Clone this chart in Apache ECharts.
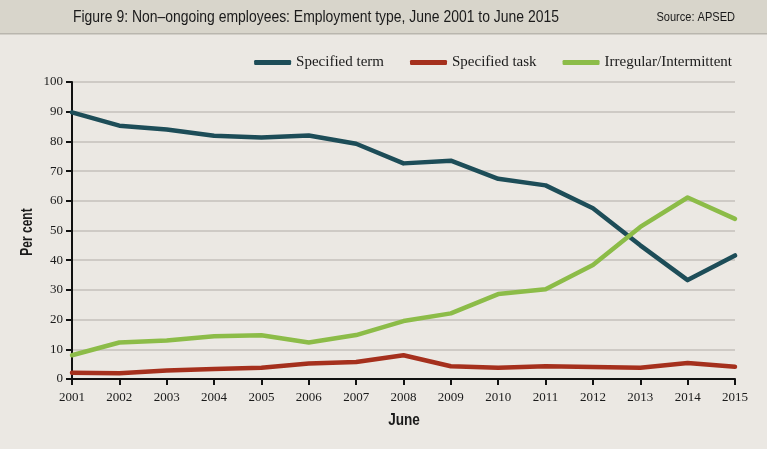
<!DOCTYPE html>
<html>
<head>
<meta charset="utf-8">
<script src="https://cdn.jsdelivr.net/npm/echarts@6/dist/echarts.min.js"></script>
<style>
html,body{margin:0;padding:0;background:#ebe8e3;}
#c{width:767px;height:449px;}
</style>
</head>
<body>
<div id="c"></div>
<script>
var years = ['2001','2002','2003','2004','2005','2006','2007','2008','2009','2010','2011','2012','2013','2014','2015'];
var specifiedTerm = [89.8,85.3,84.0,81.9,81.3,82.0,79.2,72.6,73.5,67.4,65.2,57.5,45.0,33.3,41.6];
var specifiedTask = [2.1,1.9,2.9,3.4,3.8,5.2,5.7,8.0,4.3,3.8,4.3,4.0,3.8,5.4,4.1];
var irregular = [8.0,12.3,13.0,14.4,14.7,12.3,14.8,19.5,22.1,28.6,30.2,38.4,51.2,61.1,53.9];
var yTicks = [0,10,20,30,40,50,60,70,80,90,100];

var serif = '"Liberation Serif", "DejaVu Serif", serif';
var sans = '"Liberation Sans", Arial, sans-serif';

var chart = echarts.init(document.getElementById('c'));
chart.setOption({
  backgroundColor: '#ebe8e3',
  animation: false,
  graphic: [
    {type:'rect', left:0, top:0, shape:{width:767, height:33}, style:{fill:'#d8d5cb'}},
    {type:'rect', left:0, top:33, shape:{width:767, height:1.5}, style:{fill:'#b9b6ae'}},
    {type:'text', x:73, y:17, scaleX:0.82,
      style:{text:'Figure 9: Non\u2013ongoing employees: Employment type, June 2001 to June 2015', font:'17px ' + sans, fill:'#1a1a1a', textAlign:'left', textVerticalAlign:'middle'}},
    {type:'text', x:735, y:17, scaleX:0.85,
      style:{text:'Source: APSED', font:'13px ' + sans, fill:'#1a1a1a', textAlign:'right', textVerticalAlign:'middle'}},
    {type:'text', x:28, y:232, rotation:Math.PI/2, scaleX:0.75,
      style:{text:'Per cent', font:'bold 16px ' + sans, fill:'#1a1a1a', textAlign:'center', textVerticalAlign:'middle'}},
    {type:'text', x:404, y:421, scaleX:0.85,
      style:{text:'June', font:'bold 16px ' + sans, fill:'#1a1a1a', textAlign:'center', textVerticalAlign:'middle'}}
  ],
  color: ['#1d4d58','#a5301d','#8cbc48'],
  legend: {
    top: 50,
    right: 30,
    itemWidth: 37,
    itemHeight: 5,
    itemGap: 26,
    icon: 'roundRect',
    textStyle: {fontFamily: serif, fontSize: 15, color:'#1a1a1a'},
    data: ['Specified term','Specified task','Irregular/Intermittent']
  },
  grid: {left:72, right:32, top:82, bottom:70, containLabel:false},
  xAxis: {
    type:'category',
    data: years,
    boundaryGap: false,
    axisLine: {lineStyle:{color:'#111', width:2}},
    axisTick: {show:true, length:6, lineStyle:{color:'#111', width:2}, alignWithLabel:true},
    axisLabel: {fontFamily: serif, fontSize:13, color:'#1a1a1a', margin:12},
    splitLine: {show:false}
  },
  yAxis: {
    type:'value',
    min: 0, max: 100, interval: 10,
    axisLine: {show:true, lineStyle:{color:'#111', width:2}},
    axisTick: {show:true, length:6, lineStyle:{color:'#111', width:2}},
    axisLabel: {fontFamily: serif, fontSize:13, color:'#1a1a1a', margin:9,
      formatter: function(v){ return yTicks.indexOf(v) >= 0 ? String(v) : ''; }},
    splitLine: {show:true, lineStyle:{color:'#c4c1bb', width:1.5}}
  },
  series: [
    {name:'Specified term', type:'line', data: specifiedTerm, showSymbol:false, lineStyle:{width:4.5, cap:'round', join:'round'}},
    {name:'Specified task', type:'line', data: specifiedTask, showSymbol:false, lineStyle:{width:4.5, cap:'round', join:'round'}},
    {name:'Irregular/Intermittent', type:'line', data: irregular, showSymbol:false, lineStyle:{width:4.5, cap:'round', join:'round'}}
  ]
});
</script>
</body>
</html>
